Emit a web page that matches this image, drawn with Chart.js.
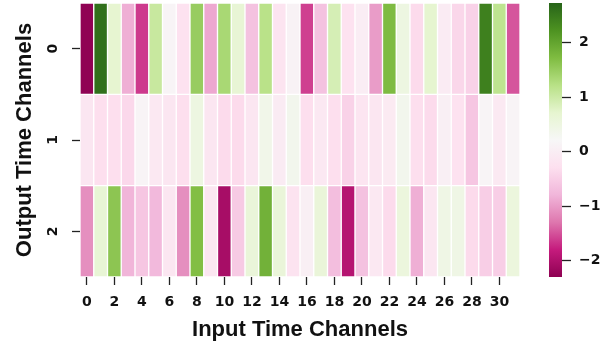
<!DOCTYPE html>
<html><head><meta charset="utf-8">
<script src="https://cdn.jsdelivr.net/npm/chart.js@4.4.1/dist/chart.umd.min.js"></script>
<style>
html,body{margin:0;padding:0;background:#fff;}
#wrap{position:relative;width:610px;height:348px;}
#wrap canvas{position:absolute;left:0;top:0;}
</style></head><body>
<div id="wrap"><canvas id="hm" width="610" height="348"></canvas><canvas id="cb" width="610" height="348"></canvas></div>
<script>
// ---- data ----
const colLabels = ['0','1','2','3','4','5','6','7','8','9','10','11','12','13','14','15',
                   '16','17','18','19','20','21','22','23','24','25','26','27','28','29','30','31'];
const rowLabels = ['0','1','2'];
const row0 = [-2.28, 2.60, 0.70, -0.85, -1.63, 1.05, 0.15, -0.25, 1.50, -0.90, 1.35, 0.65,
              -0.65, 1.20, -0.20, 0.10, -1.60, -0.65, 0.90, -0.25, 0.00, -1.00, 1.73, 0.50,
              -0.35, 0.72, -0.05, -0.40, -0.45, 2.42, 1.15, -1.48];
const row1 = [-0.15, -0.30, -0.30, -0.38, 0.15, -0.12, -0.15, -0.30, 0.50, -0.15, -0.35, -0.35,
              -0.15, 0.40, -0.05, 0.35, -0.30, -0.12, -0.30, -0.45, -0.18, -0.15, -0.08, 0.35,
              -0.30, -0.35, 0.05, -0.25, -0.60, 0.15, -0.10, 0.15];
const row2 = [-1.10, 0.65, 1.60, -0.80, -0.60, -0.75, -0.15, -1.10, 1.70, -0.15, -2.07, -0.55,
              0.60, 1.85, 0.60, -0.22, 0.05, 0.60, -0.70, -1.94, -0.65, -0.12, -0.35, 0.55,
              -0.85, -0.15, 0.45, 0.45, -0.35, -0.50, -0.50, 0.55];
const rows = [row0, row1, row2];
const vmin = -2.30, vmax = 2.73;
const cbTicks = [-2, -1, 0, 1, 2];

// ---- PiYG colormap ----
const PIYG = ['#8e0152','#c51b7d','#de77ae','#f1b6da','#fde0ef','#f7f7f7',
              '#e6f5d0','#b8e186','#7fbc41','#4d9221','#276419'];
function hex2rgb(h){return [parseInt(h.slice(1,3),16),parseInt(h.slice(3,5),16),parseInt(h.slice(5,7),16)];}
const PIYG_RGB = PIYG.map(hex2rgb);
function colorFor(v){
  let f = (v - vmin) / (vmax - vmin);
  f = Math.max(0, Math.min(1, f));
  const p = f * (PIYG_RGB.length - 1);
  const i = Math.min(PIYG_RGB.length - 2, Math.floor(p));
  const t = p - i;
  const a = PIYG_RGB[i], b = PIYG_RGB[i+1];
  const c = a.map((x,k)=>Math.round(x + (b[k]-x)*t));
  return `rgb(${c[0]},${c[1]},${c[2]})`;
}

const TICK_FONT = {family:'"DejaVu Sans", sans-serif', size:14, weight:'bold'};
const TITLE_FONT = {family:'"Liberation Sans", Arial, sans-serif', size:22, weight:'bold'};
const TXT = '#111111';

const rotatedYLabels = {
  id:'rotY',
  afterDraw(chart){
    const ys = chart.scales.y, ctx = chart.ctx;
    ctx.save();
    ctx.font = 'bold 14px "DejaVu Sans", sans-serif';
    ctx.fillStyle = TXT; ctx.textAlign = 'center'; ctx.textBaseline = 'middle';
    rowLabels.forEach((lab, i) => {
      const py = ys.getPixelForValue(i);
      ctx.save(); ctx.translate(chart.chartArea.left - 27, py); ctx.rotate(-Math.PI/2);
      ctx.fillText(lab, 0, 0); ctx.restore();
    });
    ctx.restore();
  }
};

new Chart(document.getElementById('hm'), {
  type:'bar',
  data:{
    labels: colLabels,
    datasets: rows.map((vals, r) => ({
      label: rowLabels[r],
      data: vals.map(() => [r - 0.5, r + 0.5]),
      backgroundColor: vals.map(colorFor),
      borderColor:'#ffffff', borderWidth:1, borderSkipped:false,
      barPercentage:1, categoryPercentage:1, grouped:false
    }))
  },
  options:{
    responsive:false, animation:false,
    layout:{padding:{left:0, right:90, top:3, bottom:0}},
    plugins:{legend:{display:false}, tooltip:{enabled:false}},
    scales:{
      x:{ type:'category', offset:true,
          grid:{offset:false, drawOnChartArea:false, drawTicks:true, tickLength:8, tickWidth:1.3,
                tickColor: c => (c.index % 2 === 0 ? '#222' : 'rgba(0,0,0,0)')},
          border:{display:false},
          ticks:{autoSkip:false, maxRotation:0, minRotation:0, padding:9, color:TXT, font:TICK_FONT,
                 callback:(v, i) => (i % 2 === 0 ? colLabels[i] : '')},
          title:{display:true, text:'Input Time Channels', font:TITLE_FONT, color:TXT, padding:{top:0, bottom:5}},
          afterFit: s => { s.height = 71; }
      },
      y:{ type:'linear', min:-0.5, max:2.5, reverse:true,
          afterBuildTicks: s => { s.ticks = rowLabels.map((l, i) => ({value:i})); },
          grid:{drawOnChartArea:false, drawTicks:true, tickLength:8, tickWidth:1.3, tickColor:'#222'},
          border:{display:false},
          ticks:{display:false},
          title:{display:true, text:'Output Time Channels', font:TITLE_FONT, color:TXT, padding:{top:12, bottom:0}},
          afterFit: s => { s.width = 80; }
      }
    }
  },
  plugins:[rotatedYLabels]
});

function cbGradient(chart){
  const a = chart.chartArea;
  if (!a) return PIYG[5];
  const g = chart.ctx.createLinearGradient(0, a.bottom, 0, a.top);
  PIYG.forEach((c, i) => g.addColorStop(i / (PIYG.length - 1), c));
  return g;
}

new Chart(document.getElementById('cb'), {
  type:'bar',
  data:{labels:['colorbar'], datasets:[{data:[[vmin, vmax]], backgroundColor: c => cbGradient(c.chart),
        borderWidth:0, barPercentage:1, categoryPercentage:1}]},
  options:{
    responsive:false, animation:false,
    layout:{padding:{left:549, top:3, right:0, bottom:71}},
    plugins:{legend:{display:false}, tooltip:{enabled:false}},
    scales:{
      x:{display:false},
      y:{position:'right', min:vmin, max:vmax,
         afterBuildTicks: s => { s.ticks = cbTicks.map(v => ({value:v})); },
         grid:{drawOnChartArea:false, drawTicks:true, tickLength:9, tickWidth:1.3, tickColor:'#222'},
         border:{display:false},
         ticks:{color:TXT, font:TICK_FONT, padding:8,
                callback: v => (v < 0 ? '\u2212' + Math.abs(v) : String(v))},
         afterFit: s => { s.width = 48; s.paddingTop = 0; s.paddingBottom = 0; }
      }
    }
  }
});
</script>
</body></html>
